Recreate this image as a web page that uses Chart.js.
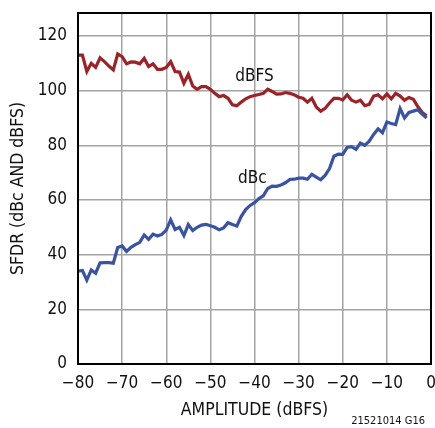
<!DOCTYPE html>
<html>
<head>
<meta charset="utf-8">
<script src="https://cdn.jsdelivr.net/npm/chart.js@4"></script>
<style>
	html, body { margin: 0; padding: 0; background: #fff; }
	#wrap { width: 435px; height: 428px; position: relative; }
</style>
</head>
<body>
<div id="wrap"><canvas id="sfdrChart"></canvas></div>
<script>
// amplitude in dBFS, 1 dB steps
const amplitude = [-80, -79, -78, -77, -76, -75, -74, -73, -72, -71, -70, -69, -68, -67, -66, -65, -64, -63, -62, -61,
	-60, -59, -58, -57, -56, -55, -54, -53, -52, -51, -50, -49, -48, -47, -46, -45, -44, -43, -42, -41,
	-40, -39, -38, -37, -36, -35, -34, -33, -32, -31, -30, -29, -28, -27, -26, -25, -24, -23, -22, -21,
	-20, -19, -18, -17, -16, -15, -14, -13, -12, -11, -10, -9, -8, -7, -6, -5, -4, -3, -2, -1];

const sfdrDbfs = [113, 113, 107, 110, 108.5, 112, 110.6, 109, 107.6, 113.4, 112.4, 109.8, 110.5, 110.4, 109.8, 111.8, 108.8, 109.8, 107.8, 107.8,
	108.5, 110.6, 107, 106.8, 102.7, 106, 101.7, 100.5, 101.5, 101.5, 100.5, 99, 97.8, 98.2, 97.2, 94.8, 94.5, 95.8, 97, 97.8,
	98.2, 98.6, 99, 100.5, 99.7, 98.7, 98.8, 99.3, 99, 98.5, 97.6, 97.2, 95.8, 97.2, 94, 92.5, 93.5, 95.5, 97.2, 97.2,
	96.6, 98.5, 96.5, 95.8, 96.5, 94.5, 95, 98, 98.5, 97, 98.8, 97, 99, 98, 96.5, 97.5, 96.8, 94.2, 92, 90.8];

const sfdrDbc = [34, 34.2, 30.7, 34.4, 33.2, 37, 37.1, 37.1, 36.9, 42.6, 43.2, 41.2, 42.7, 43.7, 44.5, 47.2, 45.6, 47.5, 46.8, 47.4,
	49, 52.7, 49.2, 50, 47, 51, 48.8, 50, 50.8, 51.1, 50.6, 50, 49.1, 49.8, 51.7, 51, 50.5, 54, 56.5, 58,
	59, 60.5, 61.5, 64.2, 65.1, 65, 65.5, 66.3, 67.5, 67.6, 68, 68, 67.6, 69.4, 68.4, 67.4, 69, 71.5, 76, 76.8,
	76.7, 79.2, 79.5, 78.5, 80.8, 80, 81.5, 84, 86, 84.6, 88.5, 88, 87.6, 93.4, 90, 92, 92.5, 93, 91.4, 90];

const yTicks = [0, 20, 40, 60, 80, 100, 120];
const xTicks = [-80, -70, -60, -50, -40, -30, -20, -10, 0];

const FONT = "'Liberation Sans Narrow', 'DejaVu Sans Condensed', sans-serif";

// frame, curve labels and figure number
const extras = {
	id: "extras",
	afterDraw(chart) {
		const { ctx, chartArea: a, scales } = chart;
		ctx.save();
		ctx.strokeStyle = "#000";
		ctx.lineWidth = 2;
		ctx.strokeRect(a.left, a.top, a.right - a.left, a.bottom - a.top);

		ctx.fillStyle = "#111";
		ctx.font = "17px " + FONT;
		ctx.textAlign = "center";
		ctx.textBaseline = "middle";
		ctx.fillText("dBFS", scales.x.getPixelForValue(-40), scales.y.getPixelForValue(105));
		ctx.fillText("dBc", scales.x.getPixelForValue(-40.5), scales.y.getPixelForValue(68));

		ctx.font = "11px " + FONT;
		ctx.textAlign = "right";
		ctx.fillText("21521014 G16", 425, 421);
		ctx.restore();
	},
};

const ctx = document.getElementById("sfdrChart").getContext("2d");
new Chart(ctx, {
	type: "line",
	data: {
		datasets: [
			{
				label: "dBc",
				data: amplitude.map((x, i) => ({ x: x, y: sfdrDbc[i] })),
				borderColor: "#3853a4",
				borderWidth: 3.2,
				pointRadius: 0,
				tension: 0,
			},
			{
				label: "dBFS",
				data: amplitude.map((x, i) => ({ x: x, y: sfdrDbfs[i] })),
				borderColor: "#9b2227",
				borderWidth: 3.2,
				pointRadius: 0,
				tension: 0,
			},
		],
	},
	options: {
		responsive: true,
		maintainAspectRatio: false,
		animation: false,
		layout: { padding: { left: 0, right: 4, top: 13, bottom: 0 } },
		plugins: {
			legend: { display: false },
			tooltip: { enabled: false },
		},
		scales: {
			x: {
				type: "linear",
				min: -80,
				max: 0,
				afterBuildTicks: (s) => { s.ticks = xTicks.map((v) => ({ value: v })); },
				afterFit: (s) => { s.height = 64; s.paddingLeft = 0; s.paddingRight = 0; },
				grid: { color: "#a3a3a3", lineWidth: 1.5, drawTicks: false },
				border: { display: false },
				ticks: {
					padding: 9,
					color: "#111",
					font: { family: FONT, size: 17 },
					maxRotation: 0,
					callback: (v) => String(v).replace("-", "\u2212"),
				},
				title: {
					display: true,
					text: "AMPLITUDE (dBFS)",
					color: "#111",
					font: { family: FONT, size: 17.5 },
					padding: { top: 0, bottom: 7 },
				},
			},
			y: {
				type: "linear",
				min: 0,
				max: 128.4,
				afterBuildTicks: (s) => { s.ticks = yTicks.map((v) => ({ value: v })); },
				afterFit: (s) => { s.width = 78; s.paddingTop = 0; s.paddingBottom = 0; },
				grid: { color: "#a3a3a3", lineWidth: 1.5, drawTicks: false },
				border: { display: false },
				ticks: {
					padding: 11,
					color: "#111",
					font: { family: FONT, size: 17 },
				},
				title: {
					display: true,
					text: "SFDR (dBc AND dBFS)",
					color: "#111",
					font: { family: FONT, size: 17.5 },
					padding: { top: 8, bottom: 4 },
				},
			},
		},
	},
	plugins: [extras],
});
</script>
</body>
</html>
